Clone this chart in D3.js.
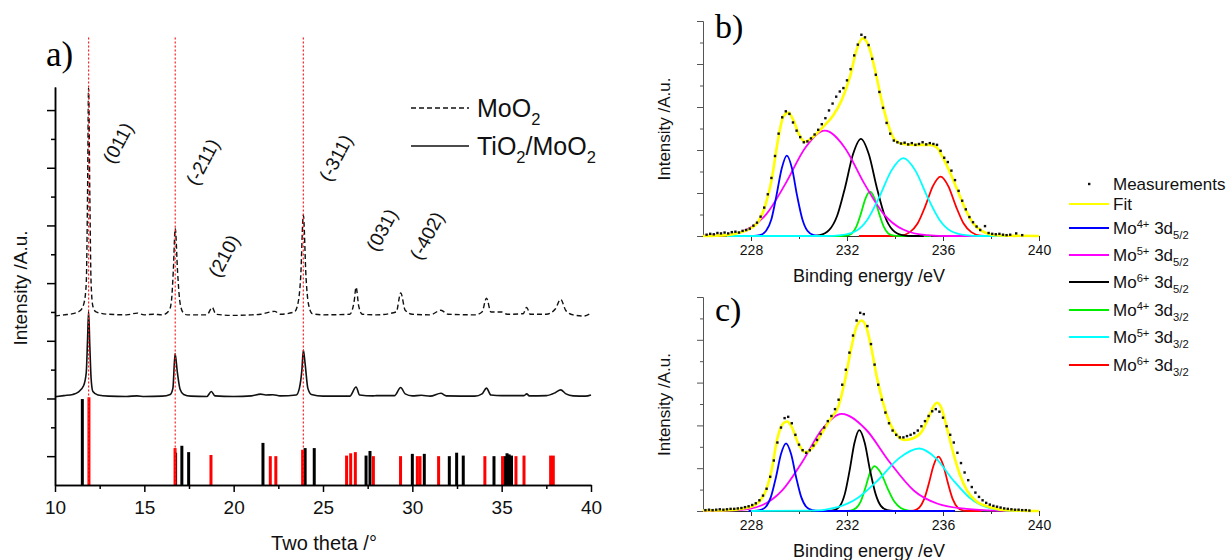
<!DOCTYPE html>
<html>
<head>
<meta charset="utf-8">
<script src="https://cdn.jsdelivr.net/npm/d3@7"></script>
<style>
  body { margin: 0; background: #fff; }
</style>
</head>
<body>
<script>
// ---- panel a: XRD ----
const solidA = [[10,1.53],[10.5,1.55],[11.0,1.57],[11.3,1.61],[11.6,1.72],[11.75,1.95],[11.82,2.5],[11.88,3.01],[11.95,2.4],[12.02,1.85],[12.12,1.62],[12.4,1.56],[13,1.54],[14,1.535],[14.6,1.545],[15,1.535],[16,1.54],[16.45,1.57],[16.6,1.68],[16.72,2.28],[16.85,1.95],[17.0,1.66],[17.2,1.57],[17.6,1.54],[18.5,1.535],[18.75,1.62],[18.95,1.545],[20,1.535],[21,1.545],[21.5,1.575],[21.8,1.56],[22.2,1.565],[22.6,1.545],[23.5,1.56],[23.68,1.68],[23.82,2.0],[23.9,2.34],[24.0,2.1],[24.15,1.68],[24.35,1.57],[25,1.54],[26.5,1.54],[26.85,1.7],[27.05,1.56],[27.8,1.545],[28,1.55],[29.0,1.55],[29.35,1.69],[29.6,1.58],[30.0,1.545],[30.5,1.555],[31.0,1.54],[31.6,1.59],[31.9,1.545],[33.5,1.54],[33.9,1.58],[34.15,1.68],[34.4,1.56],[35.0,1.55],[36.25,1.55],[36.4,1.58],[36.55,1.545],[37.5,1.55],[38.0,1.6],[38.3,1.65],[38.6,1.58],[39.0,1.545],[39.7,1.54],[40,1.56]];
const dashedA = [[10,2.93],[10.5,2.95],[11.0,2.97],[11.4,3.02],[11.62,3.15],[11.75,3.5],[11.82,5.0],[11.88,6.88],[11.95,5.0],[12.02,3.5],[12.12,3.1],[12.3,3.0],[13,2.96],[14,2.95],[14.6,2.98],[15,2.95],[15.5,2.96],[16.0,2.95],[16.4,3.03],[16.52,3.2],[16.62,3.7],[16.73,4.45],[16.86,3.7],[16.98,3.2],[17.15,3.0],[17.4,2.95],[18.5,2.95],[18.8,3.08],[19.0,2.96],[20,2.94],[21,2.95],[21.5,2.96],[22.3,3.01],[22.6,2.96],[23.4,3.0],[23.6,3.15],[23.75,3.6],[23.9,4.68],[24.05,3.6],[24.18,3.15],[24.4,2.97],[25,2.95],[26.5,2.96],[26.75,3.2],[26.85,3.43],[27.0,3.1],[27.2,2.96],[28,2.95],[29.1,3.0],[29.35,3.33],[29.6,3.03],[30,2.96],[31.0,2.95],[31.6,3.03],[32,2.96],[33.5,2.95],[33.9,3.0],[34.15,3.24],[34.4,3.0],[35.0,3.0],[35.3,2.96],[36.2,2.97],[36.4,3.08],[36.6,2.96],[37.5,2.96],[38.0,3.05],[38.3,3.22],[38.6,3.02],[39.0,2.95],[39.6,2.93],[40,2.98]];
const blackSticks = [[11.53,1.49],[16.75,0.56],[17.1,0.68],[17.48,0.57],[21.64,0.73],[24.0,0.64],[24.51,0.64],[27.41,0.51],[27.63,0.59],[30.0,0.54],[30.67,0.54],[32.07,0.5],[32.48,0.56],[32.85,0.51],[34.57,0.5],[35.18,0.5],[35.3,0.55],[35.42,0.53],[35.55,0.51]];
const redSticks = [[11.9,1.52],[16.72,0.64],[18.73,0.52],[22.05,0.5],[22.36,0.5],[23.86,0.61],[26.32,0.51],[26.55,0.55],[26.81,0.57],[27.82,0.5],[29.34,0.5],[30.28,0.5],[30.43,0.5],[31.47,0.5],[34.06,0.5],[35.05,0.5],[35.8,0.5],[36.25,0.51],[37.74,0.51],[37.89,0.51]];
const refLines = [11.88, 16.73, 23.9];
const refTop = 7.76;
const hklLabels = ["(011)", "(-211)", "(-311)", "(210)", "(031)", "(-402)"];
const hklX = [13.53, 18.28, 25.72, 19.46, 28.3, 30.82];
const hklY = [5.93, 5.6, 5.67, 3.97, 4.42, 4.32];
const xrdMajor = [10, 15, 20, 25, 30, 35, 40];
const xrdMinor = [12.5, 17.5, 22.5, 27.5, 32.5, 37.5];

// ---- panels b, c: XPS Mo 3d ----
const blueB = [[227.9,0],[228.11,0],[228.37,0.02],[228.63,0.12],[228.85,0.39],[229.06,0.94],[229.28,1.57],[229.49,1.87],[229.71,1.57],[229.92,0.94],[230.14,0.39],[230.35,0.12],[230.61,0.02],[230.87,0],[231.2,0]];
const magentaB = [[226,0.01],[226.84,0.02],[227.82,0.15],[228.64,0.51],[229.45,1.23],[230.27,2.06],[231.08,2.45],[231.9,2.06],[232.71,1.23],[233.53,0.51],[234.34,0.15],[235.32,0.02],[236.3,0],[240,0]];
const blackB = [[229.5,0],[230.47,0],[230.86,0.02],[231.26,0.14],[231.59,0.47],[231.92,1.13],[232.25,1.9],[232.58,2.26],[232.91,1.9],[233.24,1.13],[233.57,0.47],[233.9,0.14],[234.3,0.02],[234.69,0],[235.2,0]];
const greenB = [[230.5,0],[231.74,0],[231.97,0.01],[232.2,0.06],[232.39,0.22],[232.58,0.52],[232.77,0.87],[232.96,1.03],[233.15,0.87],[233.34,0.52],[233.53,0.22],[233.72,0.06],[233.95,0.01],[234.18,0],[235.5,0]];
const cyanB = [[227,0],[231.15,0],[231.75,0.02],[232.35,0.11],[232.85,0.38],[233.35,0.91],[233.85,1.52],[234.35,1.81],[234.85,1.52],[235.35,0.91],[235.85,0.38],[236.35,0.11],[236.95,0.02],[237.55,0],[240,0]];
const redB = [[232.5,0],[233.85,0],[234.24,0.01],[234.62,0.09],[234.94,0.29],[235.26,0.69],[235.58,1.16],[235.9,1.38],[236.22,1.16],[236.54,0.69],[236.86,0.29],[237.18,0.09],[237.56,0.01],[237.95,0],[238.6,0]];
const fitB = [[226,0],[226.99,0.02],[227.54,0.08],[228.0,0.18],[228.3,0.33],[228.58,0.68],[228.86,1.3],[229.1,2.15],[229.35,2.78],[229.56,2.87],[229.76,2.7],[230.01,2.35],[230.25,2.19],[230.6,2.31],[231.01,2.54],[231.43,2.81],[231.78,3.16],[232.13,3.71],[232.4,4.33],[232.65,4.6],[232.89,4.44],[233.17,3.86],[233.44,3.16],[233.72,2.58],[234.0,2.23],[234.35,2.14],[234.9,2.12],[235.46,2.12],[235.74,2.06],[235.94,1.88],[236.22,1.57],[236.57,1.11],[236.92,0.64],[237.26,0.29],[237.61,0.12],[237.96,0.04],[238.38,0.01],[240,0]];
const measB = [[226.15,0.03],[226.3,0.05],[226.45,0.04],[226.6,0.07],[226.75,0.06],[226.9,0.08],[227.05,0.06],[227.2,0.09],[227.35,0.1],[227.5,0.08],[227.65,0.12],[227.8,0.14],[227.95,0.17],[228.1,0.24],[228.25,0.31],[228.4,0.45],[228.55,0.66],[228.7,0.97],[228.85,1.35],[229.0,1.86],[229.15,2.38],[229.3,2.76],[229.45,2.9],[229.6,2.84],[229.75,2.64],[229.9,2.45],[230.05,2.3],[230.2,2.18],[230.35,2.2],[230.5,2.27],[230.65,2.36],[230.8,2.47],[230.95,2.6],[231.1,2.74],[231.25,2.92],[231.4,3.08],[231.55,3.24],[231.7,3.36],[231.85,3.44],[232.0,3.62],[232.15,3.88],[232.3,4.2],[232.45,4.45],[232.6,4.68],[232.75,4.62],[232.9,4.44],[233.05,4.12],[233.2,3.75],[233.35,3.35],[233.5,2.98],[233.65,2.63],[233.8,2.38],[233.95,2.22],[234.1,2.18],[234.25,2.15],[234.4,2.17],[234.55,2.13],[234.7,2.16],[234.85,2.12],[235.0,2.14],[235.15,2.18],[235.3,2.13],[235.45,2.16],[235.6,2.14],[235.75,2.12],[235.9,1.98],[236.05,1.82],[236.2,1.72],[236.35,1.52],[236.5,1.3],[236.65,1.05],[236.8,0.82],[236.95,0.62],[237.1,0.44],[237.25,0.32],[237.4,0.22],[237.55,0.14],[237.75,0.23],[237.9,0.07],[238.05,0.05],[238.2,0.04],[238.35,0.05],[238.5,0.03],[238.65,0.02],[238.8,0.03],[239.05,0.06],[239.3,0.02]];

const blueC = [[227.9,0],[228.12,0],[228.37,0.02],[228.62,0.1],[228.83,0.33],[229.04,0.79],[229.25,1.33],[229.46,1.58],[229.67,1.33],[229.88,0.79],[230.09,0.33],[230.3,0.1],[230.55,0.02],[230.8,0],[236.5,0]];
const magentaC = [[226,0],[227.49,0.02],[228.48,0.14],[229.3,0.48],[230.13,1.14],[230.96,1.91],[231.78,2.27],[232.78,1.91],[233.78,1.14],[234.78,0.48],[235.78,0.17],[236.98,0.05],[238.2,0.01],[240,0]];
const blackC = [[230.5,0],[231.23,0],[231.47,0.02],[231.71,0.12],[231.91,0.4],[232.11,0.95],[232.31,1.59],[232.51,1.89],[232.74,1.59],[232.96,0.95],[233.19,0.4],[233.41,0.12],[233.68,0.02],[233.95,0],[234.5,0]];
const greenC = [[231.2,0],[231.92,0],[232.15,0.01],[232.38,0.07],[232.57,0.22],[232.76,0.53],[232.95,0.88],[233.14,1.05],[233.42,0.88],[233.69,0.53],[233.97,0.22],[234.24,0.07],[234.57,0.01],[234.9,0],[235.4,0]];
const cyanC = [[228,0],[230.59,0.01],[231.61,0.09],[232.46,0.31],[233.31,0.73],[234.16,1.23],[235.01,1.46],[235.71,1.23],[236.41,0.73],[237.11,0.31],[237.81,0.09],[238.65,0.01],[240,0]];
const redC = [[234,0],[234.53,0],[234.77,0.01],[235.01,0.08],[235.21,0.27],[235.41,0.64],[235.61,1.07],[235.81,1.27],[236.01,1.07],[236.21,0.64],[236.41,0.27],[236.61,0.08],[236.85,0.01],[237.09,0],[237.6,0]];
const fitC = [[226,0.01],[226.99,0.02],[227.68,0.06],[228.1,0.12],[228.38,0.24],[228.63,0.49],[228.86,0.96],[229.1,1.7],[229.35,2.05],[229.51,2.09],[229.69,1.97],[229.97,1.58],[230.25,1.37],[230.6,1.5],[230.94,1.81],[231.29,2.13],[231.64,2.44],[231.92,3.06],[232.19,3.84],[232.4,4.31],[232.61,4.45],[232.82,4.27],[233.03,3.76],[233.24,3.14],[233.51,2.52],[233.79,2.05],[234.07,1.78],[234.42,1.66],[234.76,1.7],[235.11,1.85],[235.39,2.17],[235.6,2.44],[235.76,2.53],[235.94,2.4],[236.15,1.97],[236.43,1.35],[236.71,0.84],[236.99,0.49],[237.4,0.22],[237.96,0.09],[238.65,0.02],[240,0]];
const measC = [[226.1,0.02],[226.25,0.03],[226.4,0.02],[226.55,0.03],[226.7,0.04],[226.85,0.03],[227.0,0.04],[227.15,0.05],[227.3,0.05],[227.45,0.06],[227.6,0.07],[227.75,0.09],[227.9,0.11],[228.05,0.14],[228.2,0.18],[228.35,0.25],[228.5,0.36],[228.65,0.52],[228.8,0.8],[228.95,1.18],[229.1,1.6],[229.25,1.95],[229.4,2.17],[229.55,2.2],[229.7,2.05],[229.85,1.78],[230.0,1.55],[230.15,1.42],[230.3,1.36],[230.45,1.42],[230.6,1.53],[230.75,1.66],[230.9,1.8],[231.05,1.95],[231.2,2.1],[231.35,2.22],[231.5,2.38],[231.65,2.6],[231.8,2.95],[231.95,3.3],[232.1,3.7],[232.25,4.1],[232.4,4.45],[232.55,4.63],[232.7,4.6],[232.85,4.32],[233.0,3.9],[233.15,3.42],[233.3,2.95],[233.45,2.6],[233.6,2.3],[233.75,2.05],[233.9,1.88],[234.05,1.78],[234.2,1.72],[234.35,1.72],[234.5,1.75],[234.65,1.78],[234.8,1.82],[234.95,1.88],[235.1,1.98],[235.25,2.1],[235.4,2.22],[235.55,2.33],[235.7,2.38],[235.85,2.32],[236.0,2.18],[236.15,1.98],[236.3,1.78],[236.45,1.6],[236.6,1.36],[236.75,1.12],[236.9,0.9],[237.05,0.72],[237.2,0.56],[237.35,0.43],[237.5,0.33],[237.65,0.25],[237.8,0.19],[237.95,0.15],[238.1,0.12],[238.25,0.1],[238.4,0.08],[238.55,0.06],[238.7,0.05],[238.85,0.04],[239.0,0.03],[239.15,0.03],[239.3,0.02],[239.45,0.02],[239.6,0.01]];

const xpsMajor = [228, 232, 236, 240];
const xpsMinor = [230, 234, 238];
// drawing order: red, green, black, magenta, blue, cyan
const compColors = ["#ff0000", "#00ee00", "#000000", "#ff00ff", "#0000ff", "#00ffff"];
const legendNames = [
  [["Measurements", ""]],
  [["Fit", ""]],
  [["Mo", ""], ["4+", "sup"], [" 3d", ""], ["5/2", "sub"]],
  [["Mo", ""], ["5+", "sup"], [" 3d", ""], ["5/2", "sub"]],
  [["Mo", ""], ["6+", "sup"], [" 3d", ""], ["5/2", "sub"]],
  [["Mo", ""], ["4+", "sup"], [" 3d", ""], ["3/2", "sub"]],
  [["Mo", ""], ["5+", "sup"], [" 3d", ""], ["3/2", "sub"]],
  [["Mo", ""], ["6+", "sup"], [" 3d", ""], ["3/2", "sub"]]
];
const legendColors = [null, "#ffff00", "#0000ff", "#ff00ff", "#000000", "#00ee00", "#00ffff", "#ff0000"];

const sans = "Liberation Sans, Arial, sans-serif";
const serif = "Liberation Serif, Times New Roman, serif";

const svg = d3.select("body").append("svg")
  .attr("width", 1230).attr("height", 560)
  .attr("font-family", sans)
  .style("background", "#fff");

// text with super/subscripts
const richText = (sel, parts, size) => {
  let shift = 0;
  parts.forEach(([t, k]) => {
    const target = k === "sup" ? -size * 0.38 : k === "sub" ? size * 0.3 : 0;
    const ts = sel.append("tspan").text(t).attr("dy", target - shift);
    if (k) ts.attr("font-size", size * 0.66);
    shift = target;
  });
};

const styleAxis = (g, color, width, fontSize) => {
  g.selectAll("path, line").attr("stroke", color).attr("stroke-width", width);
  g.attr("font-family", sans).attr("font-size", fontSize);
  g.selectAll("text").attr("fill", "#111");
};

// ================= panel a =================
const xA = d3.scaleLinear().domain([10, 40]).range([55, 591]);
const yA = d3.scaleLinear().domain([0, 6.9]).range([485, 87]);
const gA = svg.append("g");

const lineA = d3.line().x(d => xA(d[0])).y(d => yA(d[1])).curve(d3.curveMonotoneX);

gA.append("path").datum(dashedA).attr("d", lineA)
  .attr("fill", "none").attr("stroke", "#111").attr("stroke-width", 1.4)
  .attr("stroke-dasharray", "5,3");
gA.append("path").datum(solidA).attr("d", lineA)
  .attr("fill", "none").attr("stroke", "#111").attr("stroke-width", 1.6);

gA.selectAll(".stickK").data(blackSticks).enter().append("line")
  .attr("x1", d => xA(d[0])).attr("x2", d => xA(d[0]))
  .attr("y1", yA(0)).attr("y2", d => yA(d[1]))
  .attr("stroke", "#000").attr("stroke-width", 3);
gA.selectAll(".stickR").data(redSticks).enter().append("line")
  .attr("x1", d => xA(d[0])).attr("x2", d => xA(d[0]))
  .attr("y1", yA(0)).attr("y2", d => yA(d[1]))
  .attr("stroke", "#ff0000").attr("stroke-width", 3);

gA.selectAll(".ref").data(refLines).enter().append("line")
  .attr("x1", d => xA(d)).attr("x2", d => xA(d))
  .attr("y1", yA(refTop)).attr("y2", yA(0))
  .attr("stroke", "#ff2020").attr("stroke-width", 1.2)
  .attr("stroke-dasharray", "2,2");

// axes a
const axA1 = gA.append("g").attr("transform", `translate(0,${yA(0)})`)
  .call(d3.axisBottom(xA).tickValues(xrdMajor).tickSize(7).tickSizeOuter(0).tickPadding(9).tickFormat(d3.format("d")));
styleAxis(axA1, "#000", 1.5, 19);
const axA2 = gA.append("g").attr("transform", `translate(0,${yA(0)})`)
  .call(d3.axisBottom(xA).tickValues(xrdMinor).tickSize(4).tickSizeOuter(0).tickFormat(""));
styleAxis(axA2, "#000", 1.5, 19);
const axA3 = gA.append("g").attr("transform", `translate(${xA(10)},0)`)
  .call(d3.axisLeft(yA).tickValues([0.5, 1.5, 2.5, 3.5, 4.5, 5.5, 6.5]).tickSize(8).tickSizeOuter(0).tickFormat(""));
styleAxis(axA3, "#000", 1.5, 19);
const axA4 = gA.append("g").attr("transform", `translate(${xA(10)},0)`)
  .call(d3.axisLeft(yA).tickValues([1, 2, 3, 4, 5, 6]).tickSize(4).tickSizeOuter(0).tickFormat(""));
styleAxis(axA4, "#000", 1.5, 19);

gA.append("text").attr("x", 324).attr("y", 550).attr("text-anchor", "middle")
  .attr("font-size", 20).attr("fill", "#111").text("Two theta /°");
gA.append("text").attr("transform", "translate(27,288) rotate(-90)")
  .attr("text-anchor", "middle").attr("font-size", 19).attr("fill", "#111")
  .text("Intensity /A.u.");
gA.append("text").attr("x", 46).attr("y", 66)
  .attr("font-family", serif)
  .attr("font-size", 35).attr("fill", "#000").text("a)");

hklLabels.forEach((t, i) => {
  gA.append("text")
    .attr("transform", `translate(${xA(hklX[i])},${yA(hklY[i])}) rotate(-62)`)
    .attr("text-anchor", "middle").attr("dominant-baseline", "central")
    .attr("font-size", 19).attr("fill", "#111").text(t);
});

// legend a
gA.append("line").attr("x1", 411).attr("x2", 469).attr("y1", 108).attr("y2", 108)
  .attr("stroke", "#111").attr("stroke-width", 1.5).attr("stroke-dasharray", "5,3");
gA.append("line").attr("x1", 411).attr("x2", 469).attr("y1", 146).attr("y2", 146)
  .attr("stroke", "#111").attr("stroke-width", 1.6);
richText(gA.append("text").attr("x", 477).attr("y", 117).attr("font-size", 25).attr("fill", "#111"),
  [["MoO", ""], ["2", "sub"]], 25);
richText(gA.append("text").attr("x", 477).attr("y", 155).attr("font-size", 25).attr("fill", "#111"),
  [["TiO", ""], ["2", "sub"], ["/MoO", ""], ["2", "sub"]], 25);

// ================= panels b, c =================
const xX = d3.scaleLinear().domain([226, 240]).range([703, 1039]);

const drawXps = (yRange, comps, fit, meas, tag, tagY) => {
  const y = d3.scaleLinear().domain([0, 5]).range(yRange);
  const g = svg.append("g");
  const line = d3.line().x(d => xX(d[0])).y(d => y(d[1])).curve(d3.curveMonotoneX);

  const ax1 = g.append("g").attr("transform", `translate(0,${y(0)})`)
    .call(d3.axisBottom(xX).tickValues(xpsMajor).tickSize(5).tickSizeOuter(0).tickPadding(4).tickFormat(d3.format("d")));
  styleAxis(ax1, "#333", 1, 14);
  const ax2 = g.append("g").attr("transform", `translate(0,${y(0)})`)
    .call(d3.axisBottom(xX).tickValues(xpsMinor).tickSize(3).tickSizeOuter(0).tickFormat(""));
  styleAxis(ax2, "#333", 1, 14);
  const ax3 = g.append("g").attr("transform", `translate(${xX(226)},0)`)
    .call(d3.axisLeft(y).tickValues([0, 1, 2, 3, 4, 5]).tickSize(6).tickSizeOuter(0).tickFormat(""));
  styleAxis(ax3, "#555", 1, 14);
  const ax4 = g.append("g").attr("transform", `translate(${xX(226)},0)`)
    .call(d3.axisLeft(y).tickValues([0.5, 1.5, 2.5, 3.5, 4.5]).tickSize(3).tickSizeOuter(0).tickFormat(""));
  styleAxis(ax4, "#555", 1, 14);

  comps.forEach((c, i) => {
    g.append("path").datum(c).attr("d", line)
      .attr("fill", "none").attr("stroke", compColors[i]).attr("stroke-width", 1.8);
  });
  g.append("path").datum(fit).attr("d", line)
    .attr("fill", "none").attr("stroke", "#ffff00").attr("stroke-width", 2.6);
  g.selectAll(".pt").data(meas).enter().append("rect")
    .attr("x", d => xX(d[0]) - 1.2).attr("y", d => y(d[1]) - 1.2)
    .attr("width", 2.4).attr("height", 2.4).attr("fill", "#111");

  g.append("text").attr("x", 869).attr("y", y(0) + 45.5).attr("text-anchor", "middle")
    .attr("font-size", 18).attr("fill", "#111").text("Binding energy /eV");
  g.append("text").attr("transform", `translate(670,${(yRange[0] + yRange[1]) / 2 + 0.5}) rotate(-90)`)
    .attr("text-anchor", "middle").attr("font-size", 17).attr("fill", "#111")
    .text("Intensity /A.u.");
  g.append("text").attr("x", 715).attr("y", tagY)
    .attr("font-family", serif)
    .attr("font-size", 34).attr("fill", "#000").text(tag);
};

drawXps([236, 21], [redB, greenB, blackB, magentaB, blueB, cyanB], fitB, measB, "b)", 38);
drawXps([511, 297], [redC, greenC, blackC, magentaC, blueC, cyanC], fitC, measC, "c)", 321);

// legend b, c
const legendY = [184, 204, 228, 255, 282, 310, 337, 365];
const gL = svg.append("g");
legendNames.forEach((parts, i) => {
  const yy = legendY[i];
  if (legendColors[i]) {
    gL.append("line").attr("x1", 1069).attr("x2", 1109).attr("y1", yy).attr("y2", yy)
      .attr("stroke", legendColors[i]).attr("stroke-width", 2);
  } else {
    gL.append("rect").attr("x", 1088).attr("y", yy - 1.2).attr("width", 2.4).attr("height", 2.4)
      .attr("fill", "#111");
  }
  richText(gL.append("text").attr("x", 1113).attr("y", yy + 6).attr("font-size", 17).attr("fill", "#111"),
    parts, 17);
});
</script>
</body>
</html>
